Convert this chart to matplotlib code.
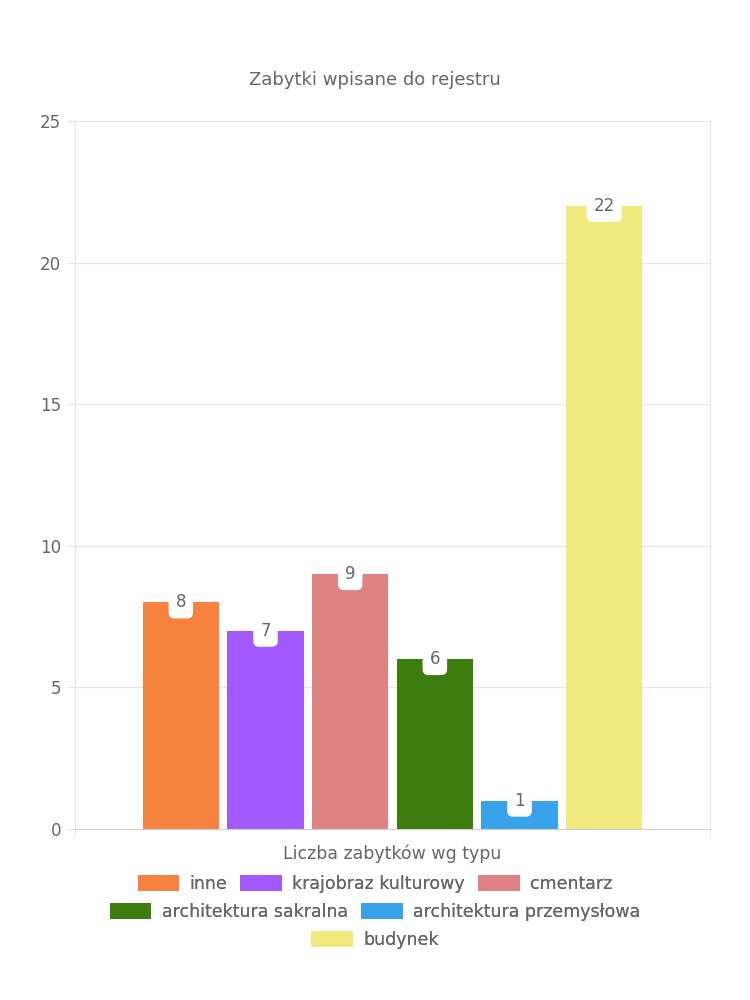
import numpy as np
import matplotlib
matplotlib.use('Agg')
import matplotlib.pyplot as plt

# data
categories = ['inne', 'krajobraz kulturowy', 'cmentarz',
              'architektura sakralna', 'architektura przemysłowa', 'budynek']
values = [8, 7, 9, 6, 1, 22]
colors = ['#f5833f', '#a259ff', '#e08283', '#3d7d0e', '#38a3ea', '#f0ea7e']
yticks = [0, 5, 10, 15, 20, 25]

title = 'Zabytki wpisane do rejestru'
xlabel = 'Liczba zabytków wg typu'

text_gray = '#666666'
grid_gray = '#e6e6e6'
axis_gray = '#cfcfcf'

plt.rcParams['font.family'] = ['DejaVu Sans']

fig = plt.figure(figsize=(7.5, 10), dpi=100)
ax = fig.add_axes([0.1, 0.171, 0.8467, 0.708])

x = np.arange(len(values))
bars = []
for i in range(len(values)):
    b = ax.bar(x[i], values[i], width=0.9, color=colors[i], label=categories[i], zorder=2)
    bars.append(b)

# value labels in small white rounded boxes
for i in range(len(values)):
    ax.text(x[i], values[i], str(values[i]), ha='center', va='center',
            fontsize=12, color=text_gray, zorder=4,
            bbox=dict(boxstyle='round,pad=0.42,rounding_size=0.35', fc='white', ec='none'))

ax.set_xlim(-1.25, 6.25)
ax.set_ylim(0, 25)
ax.set_yticks(yticks)
ax.set_yticklabels([str(t) for t in yticks], fontsize=12, color=text_gray)
ax.yaxis.grid(True, color=grid_gray, linewidth=0.8, zorder=0)
ax.tick_params(axis='y', length=6, color=grid_gray, pad=4)

ax.set_xticks([])
ax.set_xticks([-1.25, 6.25], minor=True)
ax.tick_params(axis='x', which='minor', length=6, color=grid_gray, labelbottom=False)

ax.spines['top'].set_visible(False)
ax.spines['right'].set_color(grid_gray)
ax.spines['left'].set_color(grid_gray)
ax.spines['bottom'].set_color(axis_gray)

fig.text(0.5, 0.92, title, ha='center', va='center', fontsize=13, color=text_gray)
ax.set_xlabel(xlabel, fontsize=12.5, color=text_gray, labelpad=5)

# legend rows centered under the chart
rows = [[0, 1, 2], [3, 4], [5]]
row_y = [0.116, 0.088, 0.060]
for r in range(len(rows)):
    idx = rows[r]
    leg = fig.legend([bars[i] for i in idx], [categories[i] for i in idx],
                     loc='center', bbox_to_anchor=(0.5, row_y[r]), ncol=len(idx),
                     frameon=False, fontsize=12.5, handlelength=2.4, handleheight=1.0,
                     handletextpad=0.6, columnspacing=0.75, borderpad=0, borderaxespad=0)
    for t in leg.get_texts():
        t.set_color(text_gray)
    fig.add_artist(leg)

fig.savefig('out.png', dpi=100, facecolor='white')
